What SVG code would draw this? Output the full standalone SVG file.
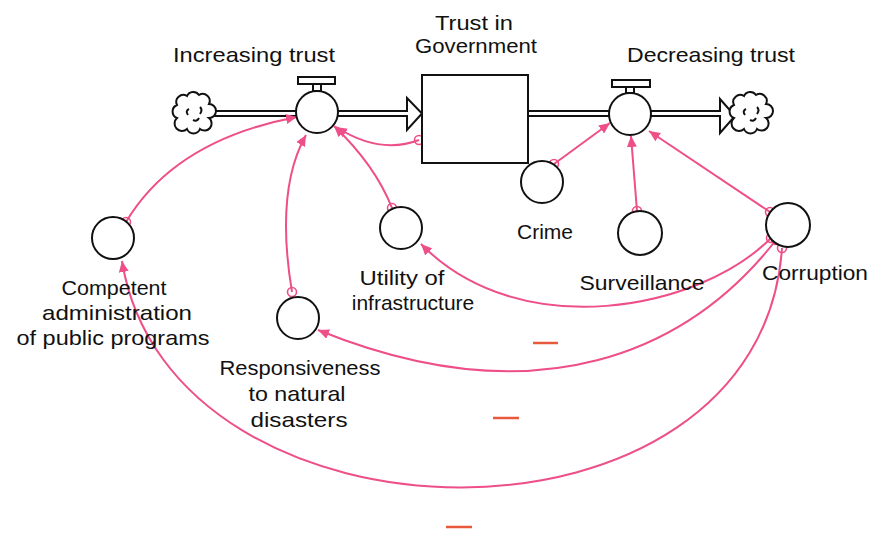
<svg xmlns="http://www.w3.org/2000/svg" width="871" height="535" viewBox="0 0 871 535">
<style>
text{font-family:"Liberation Sans",Arial,sans-serif;font-size:21px;fill:#111;text-anchor:middle}
.blk{fill:#fff;stroke:#111;stroke-width:2}
.pipeo{stroke:#111;stroke-width:7;fill:none}
.pipei{stroke:#fff;stroke-width:3;fill:none}
.lnk{fill:none;stroke:#ee4f88;stroke-width:2;marker-end:url(#ah)}
.o{fill:none;stroke:#ee4f88;stroke-width:1.6}
.minus{stroke:#e8583a;stroke-width:2.5}
</style>
<defs>
<marker id="ah" markerUnits="userSpaceOnUse" markerWidth="12" markerHeight="10" refX="11" refY="5" orient="auto">
<path d="M0,0 L11,5 L0,10 z" fill="#ee4f88"/>
</marker>
<path id="cloud" d="M-8,-17 a7,7 0 0 1 12,-1 a7,7 0 0 1 10,9 a7,7 0 0 1 0,14 a7,7 0 0 1 -9,11 a7,7 0 0 1 -13,0 a7,7 0 0 1 -10,-11 a7,7 0 0 1 0,-13 a7,7 0 0 1 10,-9 z M-6,-4 q-4,2 -1,6 M5,-6 q3,3 0,7 M-2,7 q4,2 6,-2"/>
</defs>
<rect width="871" height="535" fill="#fff"/>

<g id="connectors">
<g id="pipes">
<line class="pipeo" x1="210" y1="113.5" x2="298" y2="113.5"/>
<line class="pipei" x1="210" y1="113.5" x2="298" y2="113.5"/>
<line class="pipeo" x1="337" y1="113.5" x2="412" y2="113.5"/>
<line class="pipei" x1="337" y1="113.5" x2="412" y2="113.5"/>
<path class="blk" d="M407,98 L422,113.5 L407,130 z"/>
<line class="pipei" x1="405" y1="113.5" x2="413" y2="113.5"/>
<line class="pipeo" x1="528" y1="113.5" x2="610" y2="113.5"/>
<line class="pipei" x1="528" y1="113.5" x2="610" y2="113.5"/>
<line class="pipeo" x1="650" y1="113.5" x2="725" y2="113.5"/>
<line class="pipei" x1="650" y1="113.5" x2="725" y2="113.5"/>
<path class="blk" d="M720,99 L735,116 L720,133 z"/>
<line class="pipei" x1="718" y1="113.5" x2="726" y2="113.5"/>
</g>
<path class="lnk" d="M126,222 Q175,140 297,117"/>
<path class="lnk" d="M292,292 Q275,190 306,135"/>
<path class="lnk" d="M392,208 Q375,165 334,126"/>
<path class="lnk" d="M419,140 Q380,155 336,127"/>
<path class="lnk" d="M554,164 L610,123"/>
<path class="lnk" d="M637,211 L631,136"/>
<path class="lnk" d="M770,212 L649,131"/>
<path class="lnk" d="M771,238 C700,310 520,345 421,244"/>
<path class="lnk" d="M776,240 C690,350 540,420 318,330"/>
<path class="lnk" d="M782,248 C760,570 170,560 122,261"/>
<circle class="o" cx="126" cy="222" r="4.5"/>
<circle class="o" cx="292" cy="292" r="4.5"/>
<circle class="o" cx="392" cy="208" r="4.5"/>
<circle class="o" cx="419" cy="140" r="4.5"/>
<circle class="o" cx="554" cy="164" r="4.5"/>
<circle class="o" cx="637" cy="211" r="4.5"/>
<circle class="o" cx="770" cy="212" r="4.5"/>
<circle class="o" cx="771" cy="238" r="4.5"/>
<circle class="o" cx="776" cy="240" r="4.5"/>
<circle class="o" cx="782" cy="248" r="4.5"/>
<line class="minus" x1="533" y1="343" x2="558" y2="343"/>
<line class="minus" x1="493" y1="418" x2="519" y2="418"/>
<line class="minus" x1="446" y1="527" x2="472" y2="527"/>
</g>

<g id="cloud-left"><use href="#cloud" x="195" y="113" class="blk"/></g>
<g id="cloud-right"><use href="#cloud" x="752" y="113" class="blk"/></g>

<g id="stock-trust">
<rect class="blk" x="422" y="75" width="106" height="88"/>
<text x="474" y="30" textLength="78" lengthAdjust="spacingAndGlyphs">Trust in</text>
<text x="476" y="53" textLength="122" lengthAdjust="spacingAndGlyphs">Government</text>
</g>

<g id="flow-increasing">
<rect class="blk" x="298" y="77" width="37" height="7"/>
<rect class="blk" x="313" y="84" width="8" height="7"/>
<circle class="blk" cx="317" cy="112" r="21"/>
<text x="254" y="62" textLength="162" lengthAdjust="spacingAndGlyphs">Increasing trust</text>
</g>

<g id="flow-decreasing">
<rect class="blk" x="612" y="80" width="38" height="7"/>
<rect class="blk" x="626" y="87" width="8" height="6"/>
<circle class="blk" cx="630" cy="114" r="21"/>
<text x="711" y="62" textLength="168" lengthAdjust="spacingAndGlyphs">Decreasing trust</text>
</g>

<g id="aux-competent">
<circle class="blk" cx="113" cy="238" r="21"/>
<text x="114" y="295" textLength="105" lengthAdjust="spacingAndGlyphs">Competent</text>
<text x="117" y="320" textLength="150" lengthAdjust="spacingAndGlyphs">administration</text>
<text x="113" y="345" textLength="193" lengthAdjust="spacingAndGlyphs">of public programs</text>
</g>

<g id="aux-responsiveness">
<circle class="blk" cx="298" cy="318" r="21"/>
<text x="300" y="375" textLength="161" lengthAdjust="spacingAndGlyphs">Responsiveness</text>
<text x="297" y="401" textLength="97" lengthAdjust="spacingAndGlyphs">to natural</text>
<text x="299" y="427" textLength="97" lengthAdjust="spacingAndGlyphs">disasters</text>
</g>

<g id="aux-utility">
<circle class="blk" cx="401" cy="228" r="21"/>
<text x="402" y="285" textLength="85" lengthAdjust="spacingAndGlyphs">Utility of</text>
<text x="413" y="310">infrastructure</text>
</g>

<g id="aux-crime">
<circle class="blk" cx="542" cy="182" r="21"/>
<text x="545" y="239" textLength="56" lengthAdjust="spacingAndGlyphs">Crime</text>
</g>

<g id="aux-surveillance">
<circle class="blk" cx="640" cy="233" r="22"/>
<text x="642" y="290" textLength="125" lengthAdjust="spacingAndGlyphs">Surveillance</text>
</g>

<g id="aux-corruption">
<circle class="blk" cx="788" cy="225" r="22"/>
<text x="815" y="280" textLength="106" lengthAdjust="spacingAndGlyphs">Corruption</text>
</g>
</svg>
